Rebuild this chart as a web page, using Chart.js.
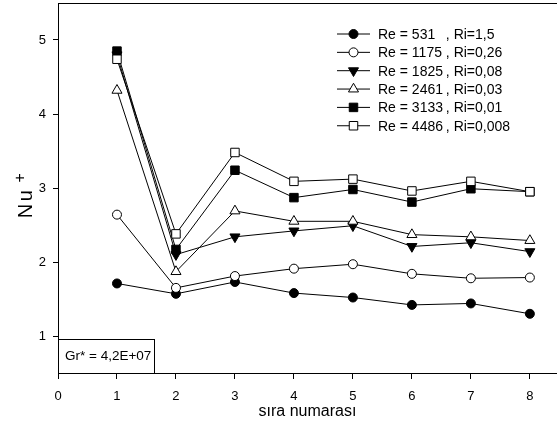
<!DOCTYPE html>
<html>
<head>
<meta charset="utf-8">
<script src="https://cdn.jsdelivr.net/npm/chart.js@4.4.1/dist/chart.umd.min.js"></script>
<style>
  html, body { margin: 0; padding: 0; background: #fff; }
  #grafico { display: block; }
</style>
</head>
<body>
<canvas id="grafico" width="557" height="428"></canvas>
<script>
// sıra numarası (x) ve Nu+ değerleri
const siraNo = [1, 2, 3, 4, 5, 6, 7, 8];
const nuRe531 = [1.71, 1.57, 1.73, 1.58, 1.52, 1.42, 1.44, 1.30];
const nuRe1175 = [2.64, 1.65, 1.81, 1.91, 1.97, 1.84, 1.78, 1.79];
const nuRe1825 = [4.80, 2.10, 2.34, 2.42, 2.49, 2.21, 2.26, 2.14];
const nuRe2461 = [4.32, 1.87, 2.69, 2.55, 2.55, 2.37, 2.34, 2.29];
const nuRe3133 = [4.85, 2.17, 3.24, 2.87, 2.98, 2.81, 2.99, 2.95];
const nuRe4486 = [4.74, 2.38, 3.48, 3.09, 3.12, 2.96, 3.09, 2.95];

const etiquetasRe = ['Re = 531', 'Re = 1175', 'Re = 1825', 'Re = 2461', 'Re = 3133', 'Re = 4486'];
const etiquetasRi = [', Ri=1,5', ', Ri=0,26', ', Ri=0,08', ', Ri=0,03', ', Ri=0,01', ', Ri=0,008'];
const xTicks = [0, 1, 2, 3, 4, 5, 6, 7, 8];
const yTicks = [1, 2, 3, 4, 5];
const notaGr = 'Gr* = 4,2E+07';

const FONT = 'Liberation Sans, Arial, sans-serif';

// estilos de marcador por serie
const marcadores = [
  {style: 'circle', fill: '#000', radius: 4.5, rotation: 0},
  {style: 'circle', fill: '#fff', radius: 4.5, rotation: 0},
  {style: 'triangle', fill: '#000', radius: 5.8, rotation: 180},
  {style: 'triangle', fill: '#fff', radius: 5.8, rotation: 0},
  {style: 'rect', fill: '#000', radius: 6, rotation: 0},
  {style: 'rect', fill: '#fff', radius: 6, rotation: 0}
];

const series = [nuRe531, nuRe1175, nuRe1825, nuRe2461, nuRe3133, nuRe4486];

const datasets = series.map((valores, i) => ({
  label: etiquetasRe[i] + ' ' + etiquetasRi[i],
  data: siraNo.map((x, k) => ({x: x, y: valores[k]})),
  borderColor: '#000',
  borderWidth: 1,
  pointStyle: marcadores[i].style,
  pointRotation: marcadores[i].rotation,
  pointRadius: marcadores[i].radius,
  pointBackgroundColor: marcadores[i].fill,
  pointBorderColor: '#000',
  pointBorderWidth: 1,
  tension: 0,
  fill: false,
  clip: false,
  order: series.length - i // la última serie queda encima
}));

// quitar el relleno automático que Chart.js reserva para las etiquetas
function sinPadding(s) {
  s.paddingTop = 0;
  s.paddingBottom = 0;
  s.paddingLeft = 0;
  s.paddingRight = 0;
}

// leyenda, marco superior, títulos y cuadro Gr*
const extras = {
  id: 'extras',
  afterDatasetsDraw(chart) {
    const ctx = chart.ctx;
    const area = chart.chartArea;
    ctx.save();

    // línea superior
    ctx.strokeStyle = '#000';
    ctx.lineWidth = 1;
    ctx.beginPath();
    ctx.moveTo(area.left, area.top + 0.5);
    ctx.lineTo(area.right, area.top + 0.5);
    ctx.stroke();

    // leyenda
    ctx.font = '14px ' + FONT;
    ctx.textBaseline = 'middle';
    ctx.textAlign = 'left';
    const anchoRe = ctx.measureText('Re = 1175 ').width;
    etiquetasRe.forEach((txt, i) => {
      const y = 34 + i * 18.35;
      ctx.strokeStyle = '#000';
      ctx.lineWidth = 1;
      ctx.beginPath();
      ctx.moveTo(337, y);
      ctx.lineTo(370, y);
      ctx.stroke();
      const m = marcadores[i];
      ctx.fillStyle = m.fill;
      ctx.strokeStyle = '#000';
      Chart.helpers.drawPoint(ctx, {pointStyle: m.style, radius: m.radius, rotation: m.rotation, borderWidth: 1}, 353.5, y);
      ctx.fillStyle = '#000';
      ctx.fillText(txt, 378, y + 1);
      ctx.fillText(etiquetasRi[i], 378 + anchoRe, y + 1);
    });

    // cuadro Gr*
    ctx.fillStyle = '#fff';
    ctx.fillRect(area.left, 339, 97, area.bottom - 339);
    ctx.strokeStyle = '#000';
    ctx.strokeRect(area.left + 0.5, 339.5, 96, area.bottom - 339);
    ctx.fillStyle = '#000';
    ctx.font = '13.5px ' + FONT;
    ctx.fillText(notaGr, 65, 356);

    // título eje x
    ctx.font = '16px ' + FONT;
    ctx.textAlign = 'center';
    ctx.fillText('sıra numarası', (area.left + area.right) / 2, 412);

    // título eje y: Nu con superíndice +
    ctx.translate(32.3, 217);
    ctx.rotate(-Math.PI / 2);
    ctx.textAlign = 'left';
    ctx.textBaseline = 'alphabetic';
    ctx.font = '20px ' + FONT;
    ctx.fillText('N', -1.3, 0);
    ctx.fillText('u', 15.7, 0);
    ctx.font = '16px ' + FONT;
    ctx.fillText('+', 34.5, -7.3);

    ctx.restore();
  }
};

const ctx = document.getElementById('grafico').getContext('2d');
const chart = new Chart(ctx, {
  type: 'line',
  data: {datasets: datasets},
  options: {
    responsive: false,
    animation: false,
    devicePixelRatio: 1,
    layout: {autoPadding: false, padding: {top: 3, right: 0, left: 0, bottom: 0}},
    plugins: {legend: {display: false}, tooltip: {enabled: false}},
    scales: {
      x: {
        type: 'linear',
        min: 0,
        max: 8.46,
        afterBuildTicks: s => { s.ticks = xTicks.map(v => ({value: v})); },
        afterFit: s => { s.height = 55; sinPadding(s); },
        ticks: {color: '#000', font: {family: FONT, size: 13}, padding: 10, maxRotation: 0},
        grid: {drawOnChartArea: false, drawTicks: true, tickLength: 6, color: '#000'},
        border: {display: true, color: '#000', width: 1}
      },
      y: {
        type: 'linear',
        min: 0.5,
        max: 5.5,
        afterBuildTicks: s => { s.ticks = yTicks.map(v => ({value: v})); },
        afterFit: s => { s.width = 58; sinPadding(s); },
        ticks: {color: '#000', font: {family: FONT, size: 13}, padding: 7},
        grid: {drawOnChartArea: false, drawTicks: true, tickLength: 5, color: '#000'},
        border: {display: true, color: '#000', width: 1}
      }
    }
  },
  plugins: [extras]
});
</script>
</body>
</html>
